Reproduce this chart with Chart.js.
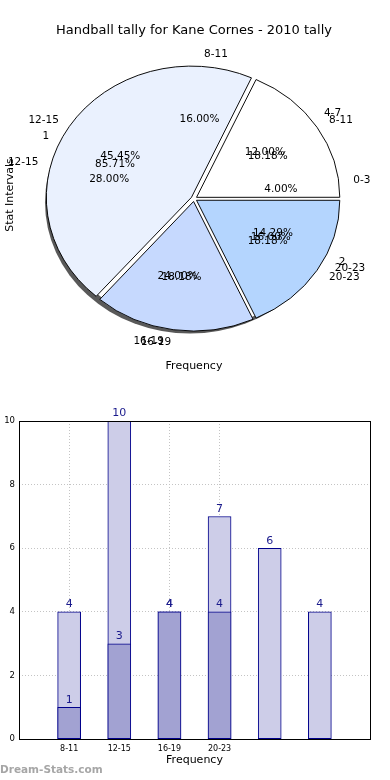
<!DOCTYPE html>
<html>
<head>
<meta charset="utf-8">
<title>Handball tally for Kane Cornes - 2010 tally</title>
<script src="https://cdn.jsdelivr.net/npm/chart.js@4.4.1/dist/chart.umd.min.js"></script>
<style>
  body { margin: 0; background: #fff; width: 390px; height: 780px; overflow: hidden; position: relative; }
  #pie-chart { position: absolute; left: 0; top: 0; }
  #bar-chart { position: absolute; left: -9px; top: 395px; }
  #watermark { position: absolute; left: 0; top: 763px; font: bold 10.5px "DejaVu Sans", sans-serif; color: #a6a6a6; }
</style>
</head>
<body>
<canvas id="pie-chart" width="390" height="390"></canvas>
<canvas id="bar-chart" width="399" height="385"></canvas>
<div id="watermark">Dream-Stats.com</div>
<script>
// Pie layers (the picture stacks three pies on top of each other)
var hourLabels = ["8-11", "12-15", "16-19", "20-23"];
var hourCounts = [2, 5, 2, 2];
var splitLabels = ["1", "2"];
var splitCounts = [6, 1];
var allLabels = ["0-3", "4-7", "8-11", "12-15", "16-19", "20-23"];
var allCounts = [1, 3, 4, 7, 6, 4];

// Bar chart
var barCategories = ["", "8-11", "12-15", "16-19", "20-23", "", "", ""];
var totalValues = [null, 4, 10, 4, 7, 6, 4, null];
var subsetValues = [null, 1, 3, 4, 4, null, null, null];
var yTicks = [0, 2, 4, 6, 8, 10];

var FONT = '"DejaVu Sans", sans-serif';
var pieTilt = 132 / 146; // pie is squashed into an ellipse
var pieColors = ["#ffffff", "#eaf1fe", "#c6d9fe", "#b4d5fe"];

function reversed(arr) {
  return arr.slice().reverse();
}

var pieLayers = [
  { labels: allLabels, counts: allCounts },
  { labels: splitLabels, counts: splitCounts },
  { labels: hourLabels, counts: hourCounts },
];

// squash + shadow before the wedges, text after
var pieTextPlugin = {
  id: "pieText",
  beforeDatasetsDraw: function (chart) {
    var arc = chart.getDatasetMeta(0).data[0];
    var ctx = chart.ctx;
    ctx.save();
    ctx.translate(arc.x, arc.y);
    ctx.scale(1, pieTilt);
    ctx.translate(-arc.x, -arc.y);
    ctx.beginPath();
    ctx.arc(arc.x - 4, arc.y + 4, arc.outerRadius + 2, 0, Math.PI * 2);
    ctx.fillStyle = "rgba(60,60,60,0.85)";
    ctx.fill();
    ctx.beginPath();
    ctx.arc(arc.x, arc.y, arc.outerRadius, 0, Math.PI * 2);
    ctx.fillStyle = "#ffffff";
    ctx.fill();
  },
  afterDatasetsDraw: function (chart) {
    var ctx = chart.ctx;
    ctx.restore();
    var arc = chart.getDatasetMeta(0).data[0];
    var cx = arc.x, cy = arc.y;
    var rx = arc.outerRadius + 3, ry = (arc.outerRadius + 3) * pieTilt;

    ctx.save();
    ctx.fillStyle = "#000";
    ctx.font = "10.5px " + FONT;
    ctx.textBaseline = "middle";
    pieLayers.forEach(function (layer) {
      var total = layer.counts.reduce(function (a, b) { return a + b; }, 0);
      var start = 0;
      layer.counts.forEach(function (v, i) {
        var mid = (start + v / 2) / total * 2 * Math.PI;
        start += v;
        var c = Math.cos(mid), s = Math.sin(mid);
        ctx.textAlign = "center";
        ctx.fillText((100 * v / total).toFixed(2) + "%", cx + 0.6 * rx * c, cy - 0.6 * ry * s);
        ctx.textAlign = c >= 0 ? "left" : "right";
        ctx.fillText(layer.labels[i], cx + 1.1 * rx * c, cy - 1.1 * ry * s);
      });
    });

    // axis labels of the pie figure
    ctx.font = "11px " + FONT;
    ctx.textAlign = "center";
    ctx.fillText("Frequency", 194, 366);
    ctx.translate(10, 195);
    ctx.rotate(-Math.PI / 2);
    ctx.fillText("Stat Intervals", 0, 0);
    ctx.restore();
  },
};

new Chart(document.getElementById("pie-chart"), {
  type: "pie",
  data: {
    labels: reversed(hourLabels),
    datasets: [
      {
        data: reversed(hourCounts),
        backgroundColor: reversed(pieColors),
        borderColor: "#000",
        borderWidth: 1,
        offset: 12,
        clip: false,
      },
    ],
  },
  options: {
    responsive: false,
    animation: false,
    rotation: 90,
    radius: 143,
    layout: { padding: { left: 42, right: 44, top: 0, bottom: 41 } },
    plugins: {
      legend: { display: false },
      tooltip: { enabled: false },
      title: {
        display: true,
        text: "Handball tally for Kane Cornes - 2010 tally",
        color: "#000",
        font: { family: FONT, size: 13, weight: "normal" },
        padding: { top: 23, bottom: 10 },
      },
    },
  },
  plugins: [pieTextPlugin],
});

// numbers over the bars and the box round the plot
var barValuePlugin = {
  id: "barValues",
  afterDatasetsDraw: function (chart) {
    var ctx = chart.ctx;
    ctx.save();
    ctx.font = "11px " + FONT;
    ctx.fillStyle = "#1a1a8c";
    ctx.textAlign = "center";
    ctx.textBaseline = "bottom";
    chart.data.datasets.forEach(function (ds, di) {
      chart.getDatasetMeta(di).data.forEach(function (bar, i) {
        if (ds.data[i] == null) return;
        ctx.fillText(String(ds.data[i]), bar.x, bar.y - 2);
      });
    });
    ctx.restore();
  },
  afterDraw: function (chart) {
    var a = chart.chartArea;
    var ctx = chart.ctx;
    ctx.save();
    ctx.strokeStyle = "#000";
    ctx.lineWidth = 1;
    ctx.strokeRect(Math.round(a.left) + 0.5, Math.round(a.top) + 0.5, Math.round(a.right - a.left), Math.round(a.bottom - a.top));
    ctx.restore();
  },
};

new Chart(document.getElementById("bar-chart"), {
  type: "bar",
  data: {
    labels: barCategories,
    datasets: [
      {
        label: "subset",
        data: subsetValues,
        backgroundColor: "#a2a2d2",
        borderColor: "#00008b",
        borderWidth: 1,
        borderSkipped: false,
        barThickness: 23,
        grouped: false,
        order: 0,
      },
      {
        label: "total",
        data: totalValues,
        backgroundColor: "#cdcde8",
        borderColor: "#00008b",
        borderWidth: 1,
        borderSkipped: false,
        barThickness: 23,
        grouped: false,
        order: 1,
      },
    ],
  },
  options: {
    responsive: false,
    animation: false,
    layout: { padding: { top: 26, right: 20, bottom: 13, left: 0 } },
    plugins: { legend: { display: false }, tooltip: { enabled: false } },
    scales: {
      x: {
        offset: false,
        grid: {
          offset: false,
          drawTicks: false,
          color: function (ctx) {
            return ctx.tick && ctx.tick.label ? "#c4c4c4" : "rgba(0,0,0,0)";
          },
        },
        border: { display: false, dash: [1, 2] },
        ticks: { autoSkip: false, maxRotation: 0, padding: 5, color: "#000", font: { family: FONT, size: 8 } },
        title: { display: true, text: "Frequency", color: "#000", font: { family: FONT, size: 11 }, padding: { top: -5, bottom: 0 } },
      },
      y: {
        min: 0,
        max: 10,
        afterBuildTicks: function (scale) {
          scale.ticks = yTicks.map(function (v) { return { value: v }; });
        },
        afterFit: function (scale) {
          scale.width = 28;
        },
        grid: { drawTicks: false, color: "#c4c4c4" },
        border: { display: false, dash: [1, 2] },
        ticks: { padding: 4, color: "#000", font: { family: FONT, size: 8.5 } },
        title: { display: true, text: "Stat Intervals", color: "#000", font: { family: FONT, size: 10 }, padding: 0 },
      },
    },
  },
  plugins: [barValuePlugin],
});
</script>
</body>
</html>
